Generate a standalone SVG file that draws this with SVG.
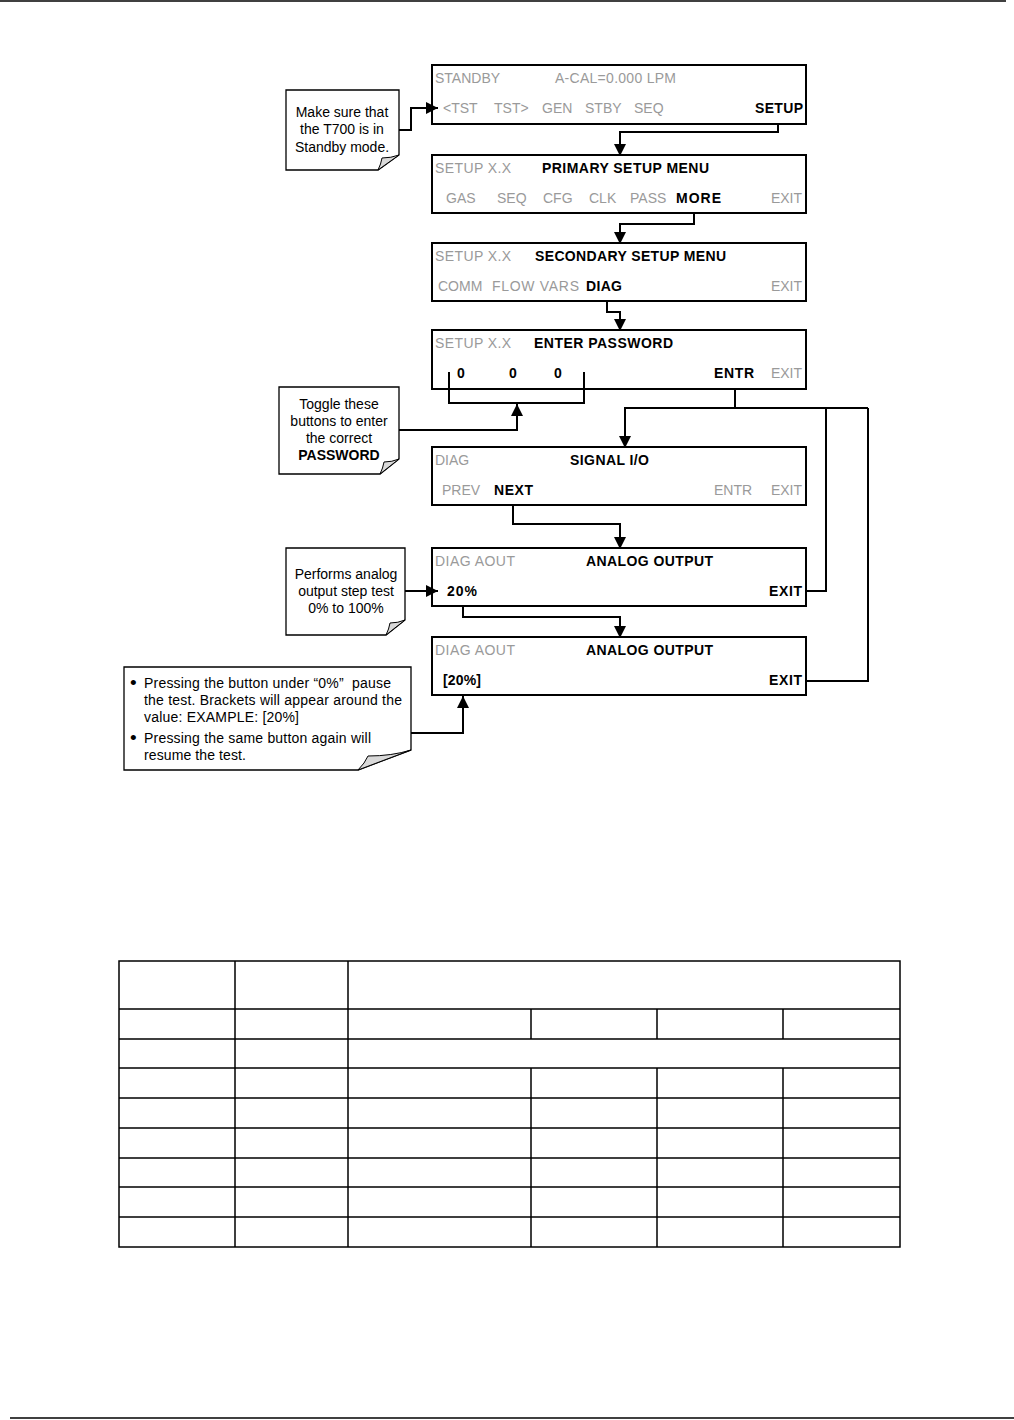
<svg xmlns="http://www.w3.org/2000/svg" width="1014" height="1420" viewBox="0 0 1014 1420">
<style>
text{font-family:"Liberation Sans",Arial,sans-serif;font-size:14px;fill:#000}
.g{fill:#9a9a9a}
.b{font-weight:bold}
.m{text-anchor:middle}
.e{text-anchor:end}
.bl{font-size:19px}
.scr{fill:#fff;stroke:#000;stroke-width:2}
.call{fill:#fff;stroke:#000;stroke-width:1.3}
.fold{fill:#d9d9d9;stroke:#000;stroke-width:1}
.c{fill:none;stroke:#000;stroke-width:2}
.ca{fill:none;stroke:#000;stroke-width:2;marker-end:url(#ah)}
.t{fill:none;stroke:#000;stroke-width:1.5}
</style>
<defs>
<marker id="ah" markerUnits="userSpaceOnUse" markerWidth="14" markerHeight="12" refX="12" refY="6" orient="auto">
<path d="M0,0 L12,6 L0,12 Z" fill="#000"/>
</marker>
</defs>
<line x1="0" y1="1" x2="1006" y2="1" stroke="#000" stroke-width="1.5"/>
<line x1="10" y1="1418" x2="1014" y2="1418" stroke="#000" stroke-width="1.5"/>

<g id="screen-standby">
<rect class="scr" x="432" y="65" width="374" height="59"/>
<text class="g" x="435" y="83">STANDBY</text>
<text class="g" x="555" y="83" textLength="121">A-CAL=0.000 LPM</text>
<text class="g" x="443" y="113">&lt;TST</text>
<text class="g" x="494" y="113">TST&gt;</text>
<text class="g" x="542" y="113">GEN</text>
<text class="g" x="585" y="113">STBY</text>
<text class="g" x="634" y="113">SEQ</text>
<text class="b" x="755" y="113" textLength="48">SETUP</text>
</g>

<g id="screen-primary">
<rect class="scr" x="432" y="155" width="374" height="58"/>
<text class="g" x="435" y="173" textLength="76">SETUP X.X</text>
<text class="b" x="542" y="173" textLength="167">PRIMARY SETUP MENU</text>
<text class="g" x="446" y="203">GAS</text>
<text class="g" x="497" y="203">SEQ</text>
<text class="g" x="543" y="203">CFG</text>
<text class="g" x="589" y="203">CLK</text>
<text class="g" x="630" y="203">PASS</text>
<text class="b" x="676" y="203" textLength="45">MORE</text>
<text class="g e" x="802" y="203">EXIT</text>
</g>

<g id="screen-secondary">
<rect class="scr" x="432" y="243" width="374" height="58"/>
<text class="g" x="435" y="261" textLength="76">SETUP X.X</text>
<text class="b" x="535" y="261" textLength="191">SECONDARY SETUP MENU</text>
<text class="g" x="438" y="291">COMM</text>
<text class="g" x="492" y="291" textLength="87">FLOW VARS</text>
<text class="b" x="586" y="291" textLength="36">DIAG</text>
<text class="g e" x="802" y="291">EXIT</text>
</g>

<g id="screen-password">
<rect class="scr" x="432" y="330" width="374" height="59"/>
<text class="g" x="435" y="348" textLength="76">SETUP X.X</text>
<text class="b" x="534" y="348" textLength="139">ENTER PASSWORD</text>
<text class="b" x="457" y="378">0</text>
<text class="b" x="509" y="378">0</text>
<text class="b" x="554" y="378">0</text>
<text class="b" x="714" y="378" textLength="40">ENTR</text>
<text class="g e" x="802" y="378">EXIT</text>
</g>

<g id="screen-signal">
<rect class="scr" x="432" y="447" width="374" height="58"/>
<text class="g" x="435" y="465">DIAG</text>
<text class="b" x="570" y="465" textLength="79">SIGNAL I/O</text>
<text class="g" x="442" y="495">PREV</text>
<text class="b" x="494" y="495" textLength="39">NEXT</text>
<text class="g" x="714" y="495">ENTR</text>
<text class="g e" x="802" y="495">EXIT</text>
</g>

<g id="screen-aout1">
<rect class="scr" x="432" y="548" width="374" height="58"/>
<text class="g" x="435" y="566" textLength="80">DIAG AOUT</text>
<text class="b" x="586" y="566" textLength="127">ANALOG OUTPUT</text>
<text class="b" x="447" y="596" textLength="30">20%</text>
<text class="b" x="769" y="596" textLength="33">EXIT</text>
</g>

<g id="screen-aout2">
<rect class="scr" x="432" y="637" width="374" height="58"/>
<text class="g" x="435" y="655" textLength="80">DIAG AOUT</text>
<text class="b" x="586" y="655" textLength="127">ANALOG OUTPUT</text>
<text class="b" x="443" y="685" textLength="38">[20%]</text>
<text class="b" x="769" y="685" textLength="33">EXIT</text>
</g>

<g id="note-standby">
<path class="call" d="M286,90 H399 V155 L378,170 H286 Z"/>
<path class="fold" d="M399,155 L378,170 Q381,164 382,158 Q391,158 399,155 Z"/>
<text class="m" x="342" y="117">Make sure that</text>
<text class="m" x="342" y="134">the T700 is in</text>
<text class="m" x="342" y="152">Standby mode.</text>
</g>

<g id="note-password">
<path class="call" d="M279,387 H399 V459 L380,474 H279 Z"/>
<path class="fold" d="M399,459 L380,474 Q383,468 384,462 Q392,462 399,459 Z"/>
<text class="m" x="339" y="409">Toggle these</text>
<text class="m" x="339" y="426">buttons to enter</text>
<text class="m" x="339" y="443">the correct</text>
<text class="m b" x="339" y="460">PASSWORD</text>
</g>

<g id="note-step">
<path class="call" d="M286,548 H405 V620 L386,635 H286 Z"/>
<path class="fold" d="M405,620 L386,635 Q389,629 390,623 Q398,623 405,620 Z"/>
<text class="m" x="346" y="579">Performs analog</text>
<text class="m" x="346" y="596">output step test</text>
<text class="m" x="346" y="613">0% to 100%</text>
</g>

<g id="note-pause">
<path class="call" d="M124,667 H411 V750 L358,770 H124 Z"/>
<path class="fold" d="M411,750 L358,770 Q365,763 368,756 Q392,756 411,750 Z"/>
<text class="bl" x="130" y="689">•</text>
<text x="144" y="688" textLength="247" xml:space="preserve">Pressing the button under “0%”  pause</text>
<text x="144" y="705" textLength="258">the test. Brackets will appear around the</text>
<text x="144" y="722" textLength="155">value: EXAMPLE: [20%]</text>
<text class="bl" x="130" y="744">•</text>
<text x="144" y="743" textLength="227">Pressing the same button again will</text>
<text x="144" y="760" textLength="102">resume the test.</text>
</g>

<g id="connectors">
<path class="ca" d="M399,130 H411 V108 H438"/>
<path class="ca" d="M778,124 V132 H620 V156"/>
<path class="ca" d="M694,213 V224 H620 V244"/>
<path class="ca" d="M607,301 V312 H620 V331"/>
<path class="c" d="M449,372 V403 H584 V372"/>
<path class="ca" d="M399,430 H517 V404"/>
<path class="c" d="M735,389 V408"/>
<path class="ca" d="M868,408 H625 V448"/>
<path class="c" d="M826,408 V591 H806"/>
<path class="c" d="M868,408 V681 H806"/>
<path class="ca" d="M513,505 V524 H620 V549"/>
<path class="ca" d="M405,591 H438"/>
<path class="ca" d="M463,606 V617 H620 V638"/>
<path class="ca" d="M411,733 H463 V696"/>
</g>

<g id="table">
<rect class="t" x="119" y="961" width="781" height="286"/>
<path class="t" d="M119,1009 H900 M119,1039 H900 M119,1068 H900 M119,1098 H900 M119,1128 H900 M119,1158 H900 M119,1187 H900 M119,1217 H900"/>
<path class="t" d="M235,961 V1247 M348,961 V1247"/>
<path class="t" d="M531,1009 V1039 M657,1009 V1039 M783,1009 V1039"/>
<path class="t" d="M531,1068 V1247 M657,1068 V1247 M783,1068 V1247"/>
</g>
</svg>
